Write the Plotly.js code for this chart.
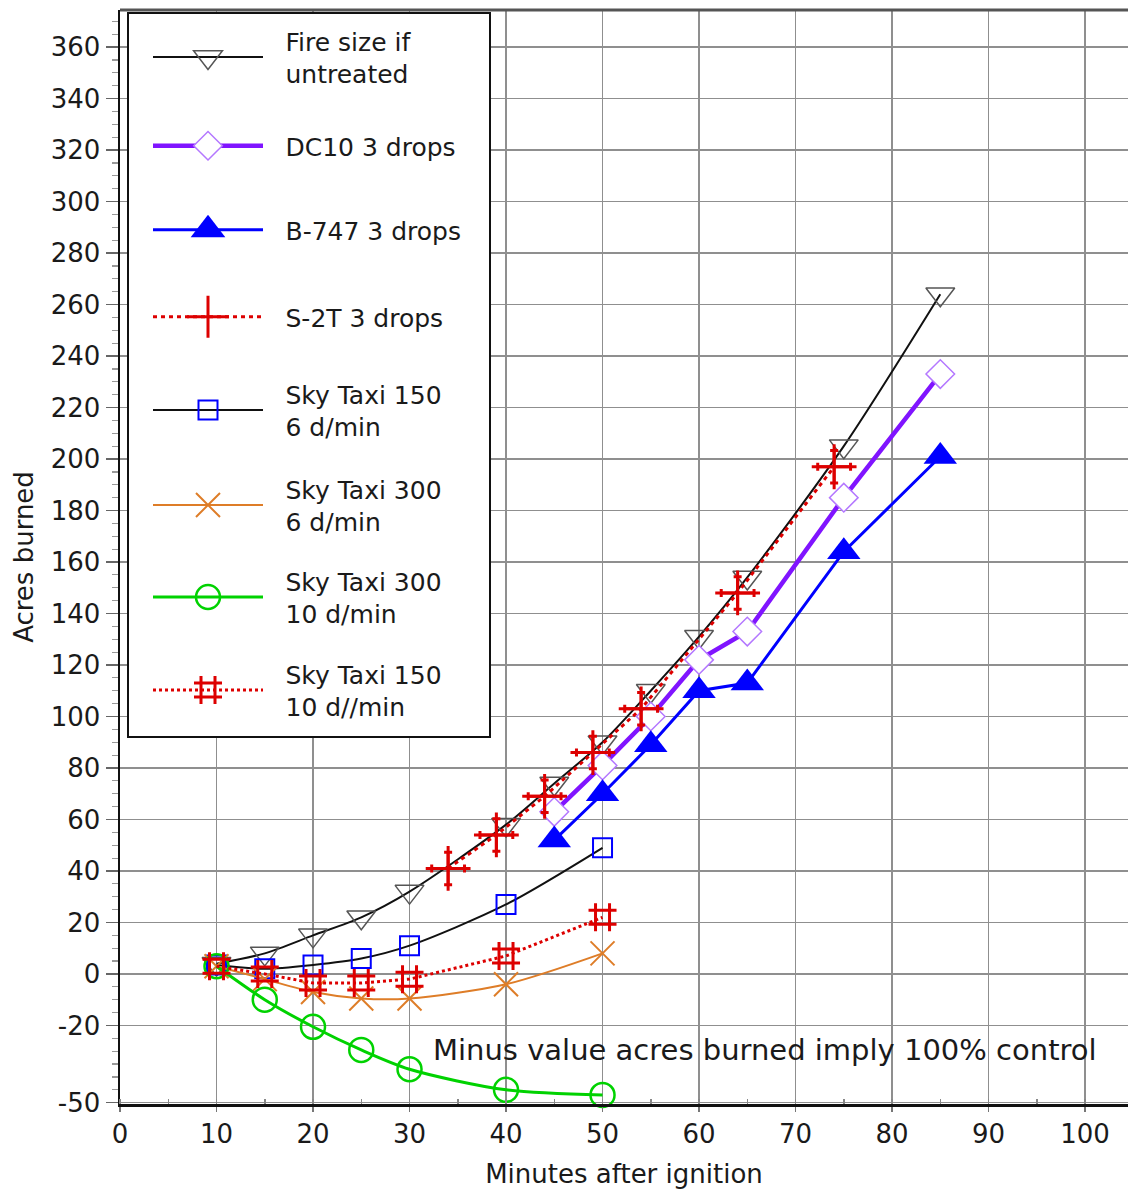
<!DOCTYPE html>
<html><head><meta charset="utf-8">
<script src="https://cdn.plot.ly/plotly-3.0.1.min.js"></script>
<style>html,body{margin:0;padding:0;background:#fff}#chart{width:1128px;height:1193px}</style>
</head><body><div id="chart"></div>
<script>
const seriesNames = ["Fire size if<br>untreated","DC10 3 drops","B-747 3 drops","S-2T 3 drops","Sky Taxi 150<br>6 d/min","Sky Taxi 300<br>6 d/min","Sky Taxi 300<br>10 d/min","Sky Taxi 150<br>10 d//min"];
const untreatedX = [10,15,20,25,30,40,45,50,55,60,65,75,85];
const untreatedY = [4,8,15,22,32,58,74,90,110,131,154,205,264];
const dc10X = [45,50,55,60,65,75,85];
const dc10Y = [63,81,100,122,133,185,233];
const b747X = [45,50,55,60,65,75,85];
const b747Y = [52,70,89,110,113,164,201];
const s2tX = [34,39,44,49,54,64,74];
const s2tY = [41,54,69,86,103,148,197];
const st150d6X = [10,15,20,25,30,40,50];
const st150d6Y = [3.5,2,3.5,6,11,27,49];
const st300d6X = [10,15,20,25,30,40,50];
const st300d6Y = [3,-2,-7,-9.5,-9.5,-4,8];
const st300d10X = [10,15,20,25,30,40,50];
const st300d10Y = [3,-10,-20.5,-29.5,-37,-45,-47];
const st150d10X = [10,15,20,25,30,40,50];
const st150d10Y = [3,0,-3.5,-3.5,-2,7,22];
const yTickVals = [-50,-20,0,20,40,60,80,100,120,140,160,180,200,220,240,260,280,300,320,340,360];
const yTickText = ["-50","-20","0","20","40","60","80","100","120","140","160","180","200","220","240","260","280","300","320","340","360"];
const xTickVals = [0,10,20,30,40,50,60,70,80,90,100];
const noteText = "Minus value acres burned imply 100% control";

const FONT = "DejaVu Sans, Arial, sans-serif";
const W = 1128, H = 1193, ML = 120, MR = 0, MT = 10, MB = 89;
const PW = W - ML - MR, PH = H - MT - MB;
const px2x = p => (p - ML) / PW;
const py2y = p => (H - MB - p) / PH;
const legendCenters = [57,146,230,317,410,505,597,690];
const legendLeft = 148;
const PAD = "\u2002\u2009";
const legendMarkerSize = [25,22,30,30,19,24,24,28];

const red = "rgb(221,0,0)";
const traces = [
  {x: untreatedX, y: untreatedY, mode: "lines+markers", line: {color: "#111", width: 2, shape: "spline", smoothing: 0.8},
   marker: {symbol: "triangle-down-open", size: 25, color: "#555", line: {width: 1.5, color: "#555"}}},
  {x: dc10X, y: dc10Y, mode: "lines+markers", line: {color: "rgb(128,20,255)", width: 4.5},
   marker: {symbol: "diamond", size: 22, color: "#fff", line: {width: 1.5, color: "rgb(180,120,255)"}}},
  {x: b747X, y: b747Y, mode: "lines+markers", line: {color: "#0000ff", width: 3},
   marker: {symbol: "triangle-up", size: 29, color: "#0000ff", line: {width: 0}}},
  {x: s2tX, y: s2tY, mode: "lines+markers", line: {color: red, width: 3, dash: "4px,4px"},
   marker: {symbol: "cross-thin-open", size: 32, color: red, line: {width: 3, color: red}},
   error_y: {type: "constant", value: 6.3, thickness: 3, width: 4, color: red},
   error_x: {type: "constant", value: 1.7, thickness: 3, width: 4, color: red}},
  {x: st150d6X, y: st150d6Y, mode: "lines+markers", line: {color: "#111", width: 2, shape: "spline", smoothing: 0.8},
   marker: {symbol: "square-open", size: 19, color: "#0000ff", line: {width: 2, color: "#0000ff"}}},
  {x: st300d6X, y: st300d6Y, mode: "lines+markers", line: {color: "rgb(222,125,40)", width: 2, shape: "spline", smoothing: 0.8},
   marker: {symbol: "x-thin-open", size: 24, color: "rgb(222,125,40)", line: {width: 2, color: "rgb(222,125,40)"}}},
  {x: st300d10X, y: st300d10Y, mode: "lines+markers", line: {color: "rgb(0,210,0)", width: 3, shape: "spline", smoothing: 0.8},
   marker: {symbol: "circle-open", size: 24, color: "rgb(0,210,0)", line: {width: 2.5, color: "rgb(0,210,0)"}}},
  {x: st150d10X, y: st150d10Y, mode: "lines+markers", line: {color: red, width: 3, dash: "3px,3px"},
   marker: {symbol: "hash-open", size: 28, color: red, line: {width: 3, color: red}}}
];
traces.forEach((t, i) => {
  t.type = "scatter";
  t.name = seriesNames[i].split("<br>").map(s => PAD + s).join("<br>");
  t.legend = i === 0 ? "legend" : "legend" + (i + 1);
  t.cliponaxis = false;
});

const layout = {
  width: W, height: H,
  margin: {l: ML, r: MR, t: MT, b: MB, pad: 0},
  paper_bgcolor: "#fff", plot_bgcolor: "#fff",
  font: {family: FONT, size: 25, color: "#1a1a1a"},
  showlegend: true,
  xaxis: {
    range: [0, 104.45], tickmode: "array", tickvals: xTickVals,
    showgrid: true, gridcolor: "#8f8f8f", gridwidth: 1.5,
    showline: true, linecolor: "#111", linewidth: 3,
    ticks: "outside", ticklen: 5, tickcolor: "#777", tickwidth: 1.5,
    minor: {tickmode: "linear", tick0: 0, dtick: 5, ticks: "inside", ticklen: 5, tickcolor: "#888", showgrid: false},
    tickfont: {family: FONT, size: 26, color: "#1a1a1a"},
    zeroline: false,
    title: {text: "Minutes after ignition", font: {family: FONT, size: 26, color: "#1a1a1a"}, standoff: 17}
  },
  yaxis: {
    range: [-50.5, 374.4], tickmode: "array", tickvals: yTickVals, ticktext: yTickText,
    showgrid: true, gridcolor: "#8f8f8f", gridwidth: 1.5,
    showline: true, linecolor: "#111", linewidth: 2.5,
    ticks: "outside", ticklen: 12, tickcolor: "#666", tickwidth: 1.5,
    minor: {tickmode: "linear", tick0: 0, dtick: 5, ticks: "outside", ticklen: 6, tickcolor: "#999", tickwidth: 1.2, showgrid: false},
    tickfont: {family: FONT, size: 26, color: "#1a1a1a"},
    zeroline: false,
    title: {text: "Acres burned", font: {family: FONT, size: 26, color: "#1a1a1a"}, standoff: 10}
  },
  shapes: [
    {type: "rect", xref: "paper", yref: "paper", x0: px2x(128), x1: px2x(490), y0: py2y(737), y1: py2y(13),
     fillcolor: "#fff", line: {color: "#111", width: 2}, layer: "above"},
    {type: "line", xref: "paper", yref: "paper", x0: 0, x1: 1, y0: 1, y1: 1, line: {color: "#555", width: 3}, layer: "above"}
  ],
  annotations: [
    {text: noteText, xref: "paper", yref: "paper", x: px2x(431), y: py2y(1050), xanchor: "left", yanchor: "middle",
     showarrow: false, font: {family: FONT, size: 29, color: "#1a1a1a"}}
  ]
};
legendCenters.forEach((c, i) => {
  const key = i === 0 ? "legend" : "legend" + (i + 1);
  layout[key] = {
    x: px2x(legendLeft), y: py2y(c), xref: "paper", yref: "paper", xanchor: "left", yanchor: "middle",
    bgcolor: "rgba(0,0,0,0)", borderwidth: 0, itemwidth: 110, valign: "middle",
    font: {family: FONT, size: 25, color: "#1a1a1a"}, itemclick: false, itemdoubleclick: false
  };
});
Plotly.newPlot("chart", traces, layout, {displayModeBar: false, staticPlot: true}).then(gd => {
  legendMarkerSize.forEach((sz, i) => {
    const key = i === 0 ? "legend" : "legend" + (i + 1);
    const k = sz / 16;
    gd.querySelectorAll(".infolayer ." + key + " .legendpoints path.scatterpts").forEach(p => {
      const tr = p.getAttribute("transform") || "";
      p.setAttribute("transform", tr + " scale(" + k + ")");
      const sw = parseFloat(p.style.strokeWidth || "1");
      p.style.strokeWidth = (sw / k) + "px";
    });
  });
});
</script></body></html>
